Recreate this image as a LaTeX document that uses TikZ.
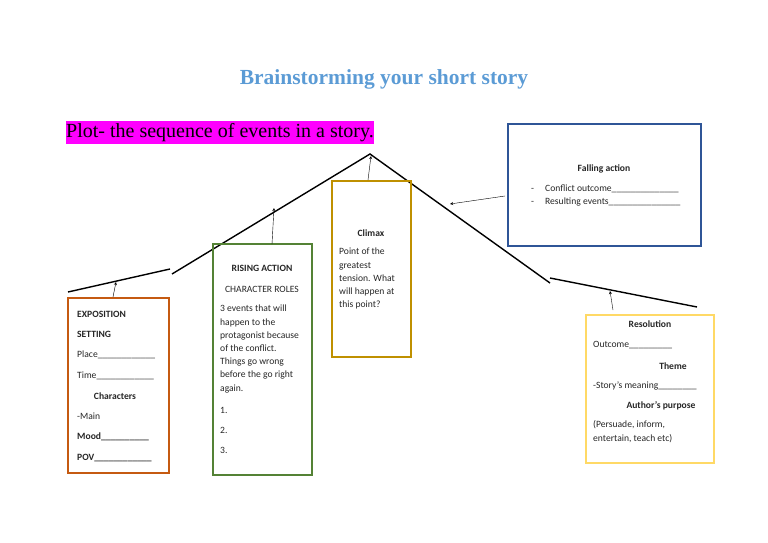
\documentclass[tikz,border=0pt]{standalone}
\usepackage{fontspec}
\setmainfont{Carlito}
\newfontfamily\seriffont{Liberation Serif}
\begin{document}
\begin{tikzpicture}[x=1pt,y=-1pt,
  t/.style={anchor=west,inner sep=0pt,font=\fontsize{9.6}{11}\selectfont,text=black!85},
  b/.style={t,font=\fontsize{9.6}{11}\selectfont\bfseries},
  tc/.style={t,anchor=center},
  bc/.style={b,anchor=center},
  bx/.style={line width=1.6pt},
  pl/.style={line width=1.4pt},
  ar/.style={->,>=stealth,line width=0.4pt}]
\useasboundingbox (0,0) rectangle (768,543);
\node[font=\seriffont\fontsize{21.5}{24}\selectfont\bfseries,text={rgb,255:red,91;green,155;blue,213}] (title) at (384,79) {Brainstorming your short story};
\node[fill={rgb,255:red,255;green,0;blue,255},anchor=west,inner sep=0pt,minimum height=23,font=\seriffont\fontsize{20}{22}\selectfont] (plot) at (66,132.5) {Plot- the sequence of events in a story.};
% plot line
\coordinate (p1) at (68,292); \coordinate (p2) at (170,269);
\coordinate (p3) at (172,274); \coordinate (top) at (370,154); \coordinate (p4) at (550,283);
\coordinate (p5) at (550,278); \coordinate (p6) at (697,307);
\draw[pl] (p1)--(p2);
\draw[pl] (p3)--(top)--(p4);
\draw[pl] (p5)--(p6);
% boxes
\draw[bx,draw={rgb,255:red,197;green,90;blue,17}] (68,298) rectangle (169,473);
\draw[bx,draw={rgb,255:red,84;green,130;blue,53}] (213,244) rectangle (312,475);
\draw[bx,draw={rgb,255:red,191;green,144;blue,0}] (332,181) rectangle (411,357);
\draw[bx,draw={rgb,255:red,47;green,85;blue,151}] (508,124) rectangle (701,246);
\draw[bx,draw={rgb,255:red,255;green,217;blue,102}] (586,315) rectangle (714,463);
% arrows
\coordinate (a1) at (113,297); \coordinate (a1e) at (116,282);
\coordinate (a2) at (272,244); \coordinate (a2e) at (274,208);
\coordinate (a3) at (368,180); \coordinate (a3e) at (371,156);
\coordinate (a4) at (505,196); \coordinate (a4e) at (450,204);
\coordinate (a5) at (613,310); \coordinate (a5e) at (610,291);
\draw[ar] (a1)--(a1e); \draw[ar] (a2)--(a2e); \draw[ar] (a3)--(a3e);
\draw[ar] (a4)--(a4e); \draw[ar] (a5)--(a5e);
% exposition
\node[b] at (77,314) {EXPOSITION};
\node[b] at (77,334) {SETTING};
\node[t] at (77,355) {Place\_\_\_\_\_\_\_\_\_\_\_\_};
\node[t] at (77,376) {Time\_\_\_\_\_\_\_\_\_\_\_\_};
\node[bc] at (115,396) {Characters};
\node[t] at (77,416) {-Main};
\node[b] at (77,437) {Mood\_\_\_\_\_\_\_\_\_\_};
\node[b] at (77,458) {POV\_\_\_\_\_\_\_\_\_\_\_\_};
% rising
\node[bc] at (262,268) {RISING ACTION};
\node[tc] at (262,289) {CHARACTER ROLES};
\node[t,anchor=north west,align=left,font=\fontsize{9.6}{13.2}\selectfont] at (220,305) {3 events that will\\happen to the\\protagonist because\\of the conflict.\\Things go wrong\\before the go right\\again.};
\node[t] at (220,410) {1.};
\node[t] at (220,430) {2.};
\node[t] at (220,450) {3.};
% climax
\node[bc] at (371,233) {Climax};
\node[t,anchor=north west,align=left,font=\fontsize{9.6}{13.2}\selectfont] at (339,248) {Point of the\\greatest\\tension. What\\will happen at\\this point?};
% falling
\node[bc] at (604,169) {Falling action};
\node[t] at (531,189) {-\hspace{11pt}Conflict outcome\_\_\_\_\_\_\_\_\_\_\_\_\_\_};
\node[t] at (531,202) {-\hspace{11pt}Resulting events\_\_\_\_\_\_\_\_\_\_\_\_\_\_\_};
% resolution
\node[bc] at (650,324) {Resolution};
\node[t] at (593,345) {Outcome\_\_\_\_\_\_\_\_\_};
\node[bc] at (673,366) {Theme};
\node[t] at (593,386) {-Story's meaning\_\_\_\_\_\_\_\_};
\node[bc] at (661,406) {Author's purpose};
\node[t,anchor=north west,align=left,font=\fontsize{9.6}{14}\selectfont] at (593,420) {(Persuade, inform,\\entertain, teach etc)};
\end{tikzpicture}
\end{document}
